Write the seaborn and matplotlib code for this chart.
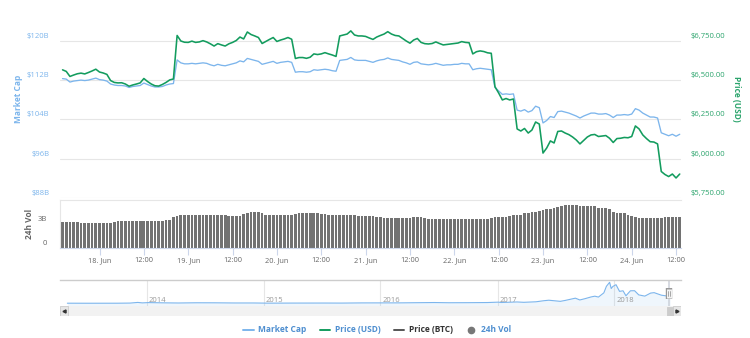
import numpy as np
import pandas as pd
import matplotlib
matplotlib.use("Agg")
import matplotlib.pyplot as plt
import matplotlib.transforms as mtransforms
from matplotlib.lines import Line2D
from matplotlib.patches import Rectangle
import seaborn as sns

sns.set_theme(style="white")
plt.rcParams["font.family"] = ["Open Sans", "DejaVu Sans"]

# ---- hourly samples, hours relative to 18 Jun 2018 00:00 (17 Jun 14:00 .. 24 Jun 13:00)
hours = np.arange(-10, 158)

price_usd = [
    6565, 6555, 6523, 6532, 6540, 6544, 6539, 6548, 6558, 6569,
    6551, 6545, 6536, 6497, 6485, 6482, 6483, 6475, 6461, 6469,
    6475, 6482, 6510, 6491, 6475, 6464, 6462, 6472, 6485, 6501,
    6507, 6783, 6748, 6740, 6739, 6747, 6739, 6742, 6750, 6742,
    6730, 6716, 6731, 6723, 6716, 6730, 6739, 6751, 6773, 6761,
    6805, 6789, 6780, 6770, 6732, 6745, 6758, 6770, 6745, 6754,
    6761, 6770, 6759, 6637, 6643, 6643, 6638, 6645, 6666, 6662,
    6666, 6674, 6666, 6659, 6650, 6780, 6786, 6792, 6812, 6786,
    6780, 6780, 6777, 6767, 6758, 6773, 6783, 6792, 6807, 6792,
    6783, 6780, 6764, 6748, 6734, 6754, 6764, 6739, 6731, 6729,
    6732, 6742, 6732, 6723, 6726, 6729, 6732, 6735, 6744, 6739,
    6737, 6666, 6680, 6685, 6681, 6673, 6670, 6458, 6418, 6374,
    6383, 6374, 6380, 6190, 6177, 6193, 6164, 6183, 6234, 6221,
    6037, 6069, 6114, 6101, 6174, 6177, 6164, 6154, 6139, 6120,
    6095, 6117, 6139, 6152, 6155, 6142, 6145, 6148, 6131, 6104,
    6129, 6131, 6136, 6134, 6142, 6209, 6190, 6152, 6129, 6109,
    6107, 6095, 5920, 5901, 5888, 5904, 5879, 5904,
]

market_cap_b = [
    112.3, 112.2, 111.6, 111.8, 111.9, 112.0, 111.9, 112.0, 112.2, 112.4,
    112.1, 112.0, 111.8, 111.2, 111.0, 110.9, 110.9, 110.8, 110.5, 110.7,
    110.8, 110.9, 111.4, 111.1, 110.8, 110.6, 110.6, 110.7, 111.0, 111.2,
    111.3, 116.1, 115.5, 115.3, 115.3, 115.4, 115.3, 115.4, 115.5, 115.4,
    115.1, 114.9, 115.2, 115.0, 114.9, 115.1, 115.3, 115.5, 115.9, 115.7,
    116.4, 116.2, 116.0, 115.8, 115.2, 115.4, 115.6, 115.8, 115.4, 115.6,
    115.7, 115.8, 115.6, 113.6, 113.7, 113.7, 113.6, 113.7, 114.1, 114.0,
    114.1, 114.2, 114.1, 113.9, 113.8, 116.0, 116.1, 116.2, 116.6, 116.1,
    116.0, 116.0, 116.0, 115.8, 115.6, 115.9, 116.1, 116.2, 116.5, 116.2,
    116.1, 116.0, 115.7, 115.5, 115.2, 115.6, 115.7, 115.3, 115.2, 115.1,
    115.2, 115.4, 115.2, 115.0, 115.1, 115.1, 115.2, 115.2, 115.4, 115.3,
    115.3, 114.1, 114.3, 114.4, 114.3, 114.2, 114.1, 110.5, 109.8, 109.1,
    109.2, 109.1, 109.2, 105.9, 105.7, 106.0, 105.5, 105.8, 106.7, 106.4,
    103.3, 103.8, 104.6, 104.4, 105.6, 105.7, 105.5, 105.3, 105.0, 104.7,
    104.3, 104.7, 105.0, 105.3, 105.3, 105.1, 105.1, 105.2, 104.9, 104.4,
    104.9, 104.9, 105.0, 104.9, 105.1, 106.2, 105.9, 105.3, 104.9, 104.5,
    104.5, 104.3, 101.3, 101.0, 100.7, 101.0, 100.6, 101.0,
]

volume_24h_b = [
    3.25, 3.25, 3.24, 3.22, 3.20, 3.17, 3.13, 3.12, 3.12, 3.13,
    3.14, 3.15, 3.16, 3.17, 3.25, 3.30, 3.30, 3.31, 3.33, 3.35,
    3.37, 3.38, 3.38, 3.38, 3.38, 3.38, 3.39, 3.40, 3.42, 3.46,
    3.80, 4.02, 4.05, 4.08, 4.08, 4.08, 4.09, 4.08, 4.07, 4.08,
    4.06, 4.05, 4.06, 4.05, 4.05, 3.98, 3.97, 3.98, 4.00, 4.25,
    4.40, 4.48, 4.50, 4.52, 4.30, 4.12, 4.10, 4.10, 4.08, 4.08,
    4.09, 4.10, 4.12, 4.25, 4.30, 4.30, 4.30, 4.29, 4.28, 4.28,
    4.27, 4.25, 4.15, 4.08, 4.05, 4.05, 4.04, 4.05, 4.05, 4.04,
    4.03, 4.02, 4.00, 3.98, 3.95, 3.90, 3.80, 3.76, 3.75, 3.75,
    3.77, 3.78, 3.78, 3.77, 3.76, 3.80, 3.80, 3.79, 3.75, 3.65,
    3.63, 3.63, 3.62, 3.62, 3.63, 3.63, 3.62, 3.62, 3.63, 3.62,
    3.62, 3.63, 3.63, 3.64, 3.64, 3.65, 3.72, 3.80, 3.84, 3.86,
    3.88, 3.96, 4.05, 4.10, 4.15, 4.30, 4.40, 4.45, 4.50, 4.60,
    4.70, 4.80, 4.85, 4.95, 5.10, 5.25, 5.28, 5.29, 5.29, 5.30,
    5.26, 5.20, 5.18, 5.20, 5.15, 5.00, 4.92, 4.90, 4.85, 4.50,
    4.40, 4.35, 4.30, 4.10, 3.95, 3.80, 3.72, 3.70, 3.70, 3.69,
    3.68, 3.70, 3.75, 3.80, 3.83, 3.82, 3.83, 3.85,
]

x_ticks = np.arange(0, 157, 12)
x_tick_labels = ["18. Jun", "12:00", "19. Jun", "12:00", "20. Jun", "12:00",
                 "21. Jun", "12:00", "22. Jun", "12:00", "23. Jun", "12:00",
                 "24. Jun", "12:00"]

cap_ticks = [88, 96, 104, 112, 120]
cap_tick_labels = ["$88B", "$96B", "$104B", "$112B", "$120B"]
price_ticks = [5750, 6000, 6250, 6500, 6750]
price_tick_labels = ["$5,750.00", "$6,000.00", "$6,250.00", "$6,500.00", "$6,750.00"]
vol_ticks = [0, 3]
vol_tick_labels = ["0", "3B"]

# ---- long-range market cap history for the navigator strip (billions USD)
nav_dates = [
    "2013-04-28", "2013-07-01", "2013-10-01", "2013-11-10", "2013-12-04", "2013-12-18",
    "2014-01-06", "2014-02-25", "2014-04-10", "2014-06-05", "2014-08-01", "2014-10-01",
    "2014-12-01", "2015-01-14", "2015-04-01", "2015-07-10", "2015-09-01", "2015-11-04",
    "2016-01-01", "2016-03-01", "2016-06-17", "2016-08-02", "2016-10-01", "2016-12-01",
    "2017-01-04", "2017-01-12", "2017-03-03", "2017-03-24", "2017-05-01", "2017-05-25",
    "2017-06-10", "2017-07-16", "2017-08-01", "2017-09-01", "2017-09-15", "2017-10-01",
    "2017-10-20", "2017-11-01", "2017-11-12", "2017-11-29", "2017-12-07", "2017-12-17",
    "2017-12-22", "2017-12-27", "2018-01-06", "2018-01-17", "2018-01-28", "2018-02-06",
    "2018-02-20", "2018-03-05", "2018-03-18", "2018-03-31", "2018-04-06", "2018-04-24",
    "2018-05-05", "2018-05-28", "2018-06-10", "2018-06-24",
]
nav_cap_b = [
    1.5, 0.9, 1.4, 3.5, 13.8, 6.5,
    11.0, 7.0, 4.8, 8.2, 7.7, 5.1,
    5.1, 2.4, 3.5, 4.1, 3.4, 6.2,
    6.5, 6.7, 12.0, 8.7, 9.7, 12.0,
    18.0, 12.5, 20.8, 15.4, 23.6, 40.0,
    48.0, 30.5, 45.6, 80.0, 52.0, 72.0,
    99.0, 111.0, 97.0, 163.0, 265.0, 327.0,
    230.0, 262.0, 290.0, 186.0, 195.0, 117.0,
    195.0, 196.0, 131.0, 118.0, 112.0, 159.0,
    166.0, 126.0, 117.0, 104.0,
]
year_ticks = ["2014-01-01", "2015-01-01", "2016-01-01", "2017-01-01", "2018-01-01"]
year_labels = ["2014", "2015", "2016", "2017", "2018"]
selected_range = ("2018-06-17 13:20", "2018-06-24 13:20")

BLUE = "#7cb5ec"
GREEN = "#139c5e"
GREEN_TXT = "#2ba46c"
GRID = "#e6e6e6"
AXIS = "#ccd6eb"
TXT = "#666666"

df = pd.DataFrame({"hour": hours, "price": price_usd, "cap": market_cap_b, "vol": volume_24h_b})
nav = pd.DataFrame({"date": pd.to_datetime(nav_dates), "cap": nav_cap_b})

W, H = 750, 338
fig = plt.figure(figsize=(W / 100, H / 100), dpi=100)
fig.patch.set_facecolor("white")


def box(x0, y0, x1, y1):
    return [x0 / W, 1 - y1 / H, (x1 - x0) / W, (y1 - y0) / H]


def px(dx, dy):
    return mtransforms.ScaledTranslation(dx / 100, dy / 100, fig.dpi_scale_trans)


ax_cap = fig.add_axes(box(60, 0, 681, 198.3))
ax_vol = fig.add_axes(box(60, 199.5, 681, 248.3))
ax_nav = fig.add_axes(box(60, 280, 681, 306))
ax_bar = fig.add_axes(box(60, 306, 681, 316))

x_lo, x_hi = -10.69, 157.34


def yside(ax):
    return mtransforms.blended_transform_factory(ax.transAxes, ax.transData)


# ---- main panel: market cap (left) and USD price (right)
ax_price = ax_cap.twinx()
sns.lineplot(data=df, x="hour", y="cap", ax=ax_cap, color=BLUE, lw=0.95)
sns.lineplot(data=df, x="hour", y="price", ax=ax_price, color=GREEN, lw=1.15)
ax_cap.set_xlim(x_lo, x_hi)
ax_cap.set_ylim(88, 128.26)
ax_price.set_ylim(5750, 7008)
for a in (ax_cap, ax_price):
    a.set_xlabel("")
    a.set_ylabel("")
    a.set_xticks([])
    a.set_yticks([])
    for s in a.spines.values():
        s.set_visible(False)
    a.patch.set_alpha(0)
for v in cap_ticks:
    ax_cap.axhline(v, color=GRID, lw=0.8, zorder=0)
for v, s in zip(cap_ticks, cap_tick_labels):
    ax_cap.text(0, v, s, transform=yside(ax_cap) + px(-10.5, 4.5), ha="right", va="center",
                fontsize=5.5, color=BLUE)
for v, s in zip(price_ticks, price_tick_labels):
    ax_price.text(1, v, s, transform=yside(ax_price) + px(9.7, 4.5), ha="left", va="center",
                  fontsize=5.5, color=GREEN_TXT)
fig.text(18.5 / W, 1 - 99 / H, "Market Cap", rotation=90, ha="center", va="center",
         fontsize=6, fontweight="bold", color=BLUE)
fig.text(737 / W, 1 - 99 / H, "Price (USD)", rotation=270, ha="center", va="center",
         fontsize=6, fontweight="bold", color=GREEN_TXT)

# ---- 24h volume columns
sns.barplot(data=df, x="hour", y="vol", native_scale=True, width=0.74, color="#727272",
            saturation=1, errorbar=None, linewidth=0, ax=ax_vol)
ax_vol.set_xlim(x_lo, x_hi)
ax_vol.set_ylim(0, 6)
ax_vol.set_xlabel("")
ax_vol.set_ylabel("")
ax_vol.set_yticks([])
ax_vol.set_xticks(x_ticks, x_tick_labels)
ax_vol.tick_params(axis="x", length=5, width=0.8, color=AXIS, labelsize=5.3,
                   labelcolor=TXT, pad=1.5, bottom=True)
for s in ax_vol.spines.values():
    s.set_linewidth(0.8)
ax_vol.spines["bottom"].set_color(AXIS)
ax_vol.spines["top"].set_color(GRID)
ax_vol.spines["left"].set_color(GRID)
ax_vol.spines["right"].set_visible(False)
for v, s in zip(vol_ticks, vol_tick_labels):
    ax_vol.text(0, v, s, transform=yside(ax_vol) + px(-13.3, 4.8), ha="right", va="center",
                fontsize=5.5, color=TXT)
fig.text(30 / W, 1 - 223.5 / H, "24h Vol", rotation=90, ha="center", va="center",
         fontsize=6, fontweight="bold", color=TXT)

# ---- navigator strip
nav_lo, nav_hi = pd.Timestamp("2013-04-05"), pd.Timestamp("2018-07-28")
sns.lineplot(data=nav, x="date", y="cap", ax=ax_nav, color=BLUE, lw=0.8)
ax_nav.fill_between(nav["date"], nav["cap"], -50, color=BLUE, alpha=0.12, lw=0)
ax_nav.set_xlim(nav_lo, nav_hi)
ax_nav.set_ylim(-42, 363)
ax_nav.set_xlabel("")
ax_nav.set_ylabel("")
ax_nav.set_xticks([])
ax_nav.set_yticks([])
for side, s in ax_nav.spines.items():
    s.set_visible(side == "top")
ax_nav.spines["top"].set_color("#cccccc")
ax_nav.spines["top"].set_linewidth(1.0)
xside = mtransforms.blended_transform_factory(ax_nav.transData, ax_nav.transAxes)
for d, s in zip(year_ticks, year_labels):
    ax_nav.axvline(pd.Timestamp(d), color=GRID, lw=0.8, zorder=0)
    ax_nav.text(pd.Timestamp(d), 0.2, s, transform=xside + px(2, 0),
                ha="left", va="center", fontsize=5.5, color="#999999")
sel0, sel1 = pd.Timestamp(selected_range[0]), pd.Timestamp(selected_range[1])
ax_nav.axvspan(sel0, sel1, color="#c8cdd6", alpha=0.7, lw=0)
mid = sel0 + (sel1 - sel0) / 2
# drag handle drawn as an outlined grip
ax_nav.plot([mid, mid], [0.27, 0.69], transform=xside, lw=4.6, color="#999999",
            solid_capstyle="butt", zorder=4)
ax_nav.plot([mid, mid], [0.30, 0.66], transform=xside, lw=3.6, color="#f2f2f2",
            solid_capstyle="butt", zorder=5)
for dx in (-1.0, 1.0):
    ax_nav.plot([mid, mid], [0.38, 0.58], transform=xside + px(dx, 0),
                lw=0.5, color="#888888", zorder=6)

# ---- scrollbar below the navigator
ax_bar.set_xlim(0, 1)
ax_bar.set_ylim(0, 1)
ax_bar.set_facecolor("#f2f2f2")
ax_bar.set_xticks([])
ax_bar.set_yticks([])
for s in ax_bar.spines.values():
    s.set_visible(False)
bw = 8 / 621
ax_bar.add_patch(Rectangle((0, 0), bw, 1, fc="#e6e6e6", ec="#cccccc", lw=0.6))
ax_bar.add_patch(Rectangle((1 - bw, 0), bw, 1, fc="#e6e6e6", ec="#cccccc", lw=0.6))
ax_bar.add_patch(Rectangle((607 / 621, 0.05), 6 / 621, 0.9, fc="#cccccc", ec="#cccccc", lw=0.6))
ax_bar.plot([bw / 2], [0.5], marker="<", ms=2.2, color="#333333")
ax_bar.plot([1 - bw / 2], [0.5], marker=">", ms=2.2, color="#333333")

# ---- legend
handles = [
    Line2D([], [], color=BLUE, lw=1.4),
    Line2D([], [], color=GREEN, lw=1.4),
    Line2D([], [], color="#555555", lw=1.4),
    Line2D([], [], color="#777777", lw=0, marker="o", ms=4.5),
]
leg = fig.legend(handles, ["Market Cap", "Price (USD)", "Price (BTC)", "24h Vol"],
                 loc="center", bbox_to_anchor=(0.503, 1 - 330 / H), ncol=4, frameon=False,
                 prop={"size": 6, "weight": "bold"}, handlelength=1.25, handletextpad=0.55,
                 columnspacing=1.6, borderaxespad=0)
for t, c in zip(leg.get_texts(), ["#4f8fd0", "#4f8fd0", "#333333", "#4f8fd0"]):
    t.set_color(c)

fig.savefig("out.png", dpi=100, facecolor="white")
